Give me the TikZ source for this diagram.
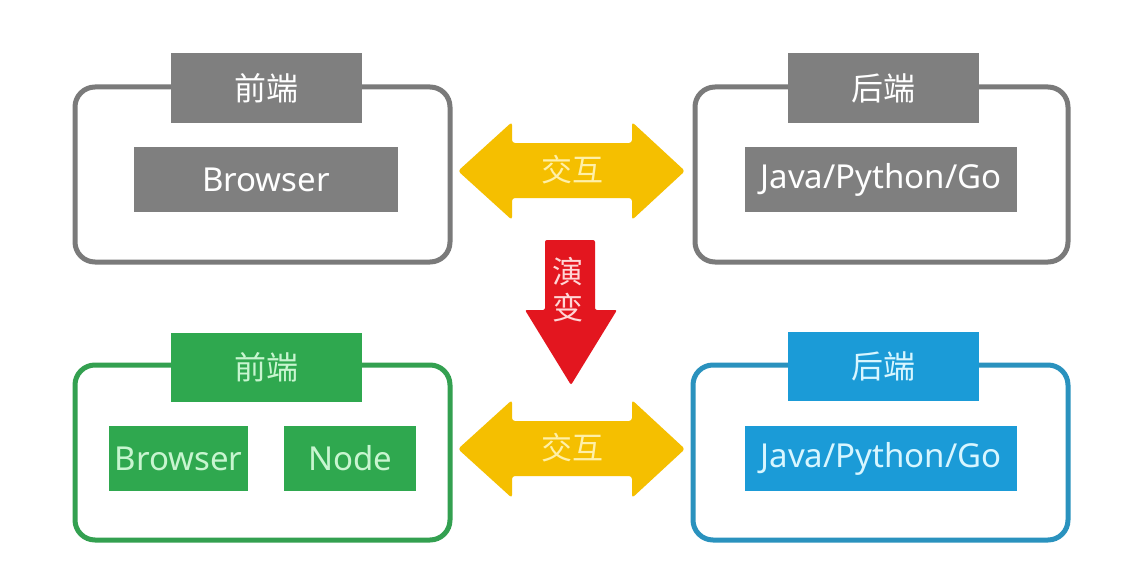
\documentclass[tikz,border=0pt]{standalone}
\usepackage{fontspec}
\setmainfont{Noto Sans}
\newfontfamily\cjk{Noto Sans CJK SC}
\definecolor{gbox}{HTML}{7F7F7F}
\definecolor{gline}{HTML}{7A7A7A}
\definecolor{grfill}{HTML}{2FA84F}
\definecolor{grline}{HTML}{33A050}
\definecolor{grtext}{HTML}{C8F5D0}
\definecolor{blfill}{HTML}{1B9BD7}
\definecolor{blline}{HTML}{2A92BE}
\definecolor{bltext}{HTML}{D8F6FF}
\definecolor{yel}{HTML}{F5BF00}
\definecolor{yeltext}{HTML}{FFF0A8}
\definecolor{redf}{HTML}{E3161F}
\definecolor{redtext}{HTML}{FFD6D6}
\tikzset{
  outer/.style={line width=5pt, rounded corners=20pt},
  titlebox/.style={inner sep=0pt, minimum width=191pt, minimum height=69pt, font=\cjk\fontsize{32}{34}\selectfont},
  itembox/.style={inner sep=0pt, minimum height=65pt, font=\fontsize{33}{36}\selectfont},
  arrowlabel/.style={font=\cjk\fontsize{31}{33}\selectfont},
}
\begin{document}
\begin{tikzpicture}[x=1pt,y=-1pt]
\useasboundingbox (0,0) rectangle (1133,586);
\fill[white] (0,0) rectangle (1133,586);
% top-left (frontend)
\draw[outer, draw=gline] (75,87) rectangle (450,262);
\node[titlebox, fill=gbox, text=white] (fe1) at (266.5,88) {前端};
\node[itembox, fill=gbox, text=white, minimum width=264pt] (br1) at (266,179.5) {Browser};
% top-right (backend)
\draw[outer, draw=gline] (695,87) rectangle (1068,262);
\node[titlebox, fill=gbox, text=white] (be1) at (883.5,88) {后端};
\node[itembox, fill=gbox, text=white, minimum width=272pt] (jv1) at (881,179.5) {Java/Python/Go};
% bottom-left
\draw[outer, draw=grline] (75,365) rectangle (450,540);
\node[titlebox, fill=grfill, text=grtext] (fe2) at (266.5,367) {前端};
\node[itembox, fill=grfill, text=grtext, minimum width=139pt] (br2) at (178.5,458.5) {Browser};
\node[itembox, fill=grfill, text=grtext, minimum width=132pt] (nd2) at (350,458.5) {Node};
% bottom-right
\draw[outer, draw=blline] (693,365) rectangle (1068,540);
\node[titlebox, fill=blfill, text=bltext] (be2) at (883.5,366.5) {后端};
\node[itembox, fill=blfill, text=bltext, minimum width=272pt] (jv2) at (881,458.5) {Java/Python/Go};
% yellow double arrows
\fill[yel, rounded corners=3pt] (458,171) -- (512,122) -- (512,143) -- (632,143) -- (632,122) -- (685,171) -- (632,220) -- (632,198) -- (512,198) -- (512,220) -- cycle;
\node[arrowlabel, text=yeltext] (ia1) at (572,170) {交互};
\fill[yel, rounded corners=3pt] (458,449) -- (512,400) -- (512,421) -- (632,421) -- (632,400) -- (685,449) -- (632,498) -- (632,476) -- (512,476) -- (512,498) -- cycle;
\node[arrowlabel, text=yeltext] (ia2) at (572,448) {交互};
% red evolution arrow
\fill[redf, rounded corners=2pt] (545,240) -- (595,240) -- (595,310) -- (617,310) -- (571,385) -- (525,310) -- (545,310) -- cycle;
\node[arrowlabel, text=redtext] (ev1) at (568,272) {演};
\node[arrowlabel, text=redtext] (ev2) at (568,308) {变};
\end{tikzpicture}
\end{document}
